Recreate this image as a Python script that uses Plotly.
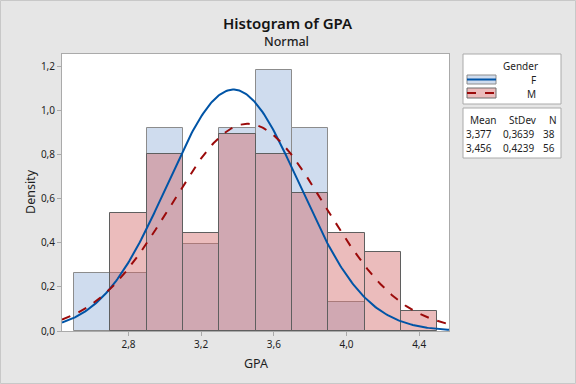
import numpy as np
import plotly.graph_objects as go

# ---- data ----
bin_centers = [2.6, 2.8, 3.0, 3.2, 3.4, 3.6, 3.8, 4.0, 4.2, 4.4]
bin_width = 0.2
counts_F = [2, 2, 7, 3, 7, 9, 7, 1, 0, 0]
counts_M = [0, 6, 9, 5, 10, 9, 7, 5, 4, 1]
groups = ["F", "M"]
means = [3.377, 3.456]
stdevs = [0.3639, 0.4239]
ns = [38, 56]
x_ticks = [2.8, 3.2, 3.6, 4.0, 4.4]
y_ticks = [0.0, 0.2, 0.4, 0.6, 0.8, 1.0, 1.2]

X_RANGE = [2.434, 4.564]
Y_RANGE = [0, 1.258]

FONT = "Noto Sans"
L, R, T, B = 62, 127, 54, 53
W, H = 576, 384
PW, PH = W - L - R, H - T - B


def px(x):
    return (x - L) / PW


def py(y):
    return (H - B - y) / PH


def dens(counts, n):
    xs, ys = [], []
    for c, k in zip(bin_centers, counts):
        if k > 0:
            xs.append(c)
            ys.append(k / (n * bin_width))
    return xs, ys


fig = go.Figure()

xf, yf = dens(counts_F, ns[0])
xm, ym = dens(counts_M, ns[1])

fig.add_trace(go.Bar(x=xf, y=yf, width=bin_width,
                     marker=dict(color="rgb(207,220,238)",
                                 line=dict(color="rgb(140,140,140)", width=1)),
                     showlegend=False, hoverinfo="skip"))
fig.add_trace(go.Bar(x=xm, y=ym, width=bin_width,
                     marker=dict(color="rgba(208,99,99,0.43)",
                                 line=dict(color="rgb(95,95,95)", width=1)),
                     showlegend=False, hoverinfo="skip"))

xc = np.linspace(X_RANGE[0], X_RANGE[1], 300)
for mu, sd, col, dash in [(means[0], stdevs[0], "rgb(0,84,166)", "solid"),
                          (means[1], stdevs[1], "rgb(155,10,10)", "dash")]:
    yc = np.exp(-0.5 * ((xc - mu) / sd) ** 2) / (sd * np.sqrt(2 * np.pi))
    fig.add_trace(go.Scatter(x=xc, y=yc, mode="lines",
                             line=dict(color=col, width=2, dash=dash),
                             showlegend=False, hoverinfo="skip"))

shapes = []
# outer figure border
shapes.append(dict(type="rect", xref="paper", yref="paper",
                   x0=px(0.5), x1=px(W - 0.5), y0=py(0.5), y1=py(H - 0.5),
                   line=dict(color="rgb(200,200,200)", width=1), layer="below"))
# legend boxes
shapes.append(dict(type="rect", xref="paper", yref="paper",
                   x0=px(463), x1=px(561), y0=py(54), y1=py(104),
                   fillcolor="white", line=dict(color="rgb(170,170,170)", width=1)))
shapes.append(dict(type="rect", xref="paper", yref="paper",
                   x0=px(463), x1=px(561), y0=py(108), y1=py(158),
                   fillcolor="white", line=dict(color="rgb(170,170,170)", width=1)))
# legend keys
shapes.append(dict(type="rect", xref="paper", yref="paper",
                   x0=px(467), x1=px(496), y0=py(75), y1=py(84),
                   fillcolor="rgb(207,220,238)", line=dict(color="rgb(140,140,140)", width=1)))
shapes.append(dict(type="line", xref="paper", yref="paper",
                   x0=px(467), x1=px(496), y0=py(79.5), y1=py(79.5),
                   line=dict(color="rgb(0,84,166)", width=2)))
shapes.append(dict(type="rect", xref="paper", yref="paper",
                   x0=px(467), x1=px(496), y0=py(88), y1=py(98),
                   fillcolor="rgb(235,188,188)", line=dict(color="rgb(110,110,110)", width=1)))
shapes.append(dict(type="line", xref="paper", yref="paper",
                   x0=px(467), x1=px(496), y0=py(93), y1=py(93),
                   line=dict(color="rgb(155,10,10)", width=2, dash="dash")))

ann = []


def text(t, x, y, size, xanchor="center", yanchor="middle", color="rgb(30,30,30)",
         angle=0, weight="normal"):
    ann.append(dict(text=t, x=px(x), y=py(y), xref="paper", yref="paper",
                    showarrow=False, xanchor=xanchor, yanchor=yanchor,
                    textangle=angle,
                    font=dict(family=FONT, size=size, color=color, weight=weight)))


text("Histogram of GPA", 288, 23, 15, color="rgb(20,20,20)", weight=600)
text("Normal", 286, 41, 12.5, weight=500)
text("GPA", 255.5, 363, 12.5)
text("Density", 30, 192, 12.5, angle=-90)

text("Gender", 520, 66, 10)
text(groups[0], 538, 79.5, 10, xanchor="right")
text(groups[1], 538, 93.5, 10, xanchor="right")

text("Mean", 483, 120, 10)
text("StDev", 523, 120, 10)
text("N", 553, 120, 10)


def fmt(v, d):
    return f"{v:.{d}f}".replace(".", ",")


for i, yy in enumerate([134, 148]):
    text(fmt(means[i], 3), 494, yy, 10, xanchor="right")
    text(fmt(stdevs[i], 4), 537, yy, 10, xanchor="right")
    text(str(ns[i]), 556.5, yy, 10, xanchor="right")

fig.update_layout(
    width=W, height=H,
    margin=dict(l=L, r=R, t=T, b=B),
    paper_bgcolor="rgb(230,230,230)",
    plot_bgcolor="white",
    barmode="overlay",
    bargap=0,
    separators=",.",
    shapes=shapes,
    annotations=ann,
    font=dict(family=FONT, size=10, color="rgb(30,30,30)"),
)
fig.update_xaxes(range=X_RANGE, tickvals=x_ticks, tickformat=".1f",
                 showgrid=False, zeroline=False, showline=True, mirror=True,
                 linecolor="rgb(170,170,170)", linewidth=1,
                 ticks="outside", ticklen=4, tickcolor="rgb(170,170,170)",
                 tickfont=dict(family=FONT, size=10))
fig.update_yaxes(range=Y_RANGE, tickvals=y_ticks, tickformat=".1f",
                 showgrid=False, zeroline=False, showline=True, mirror=True,
                 linecolor="rgb(170,170,170)", linewidth=1,
                 ticks="outside", ticklen=4, tickcolor="rgb(170,170,170)",
                 tickfont=dict(family=FONT, size=10))

fig.write_html("out.html", config={"displayModeBar": False},
               post_script="document.body.style.margin='0';document.body.style.padding='0';")
